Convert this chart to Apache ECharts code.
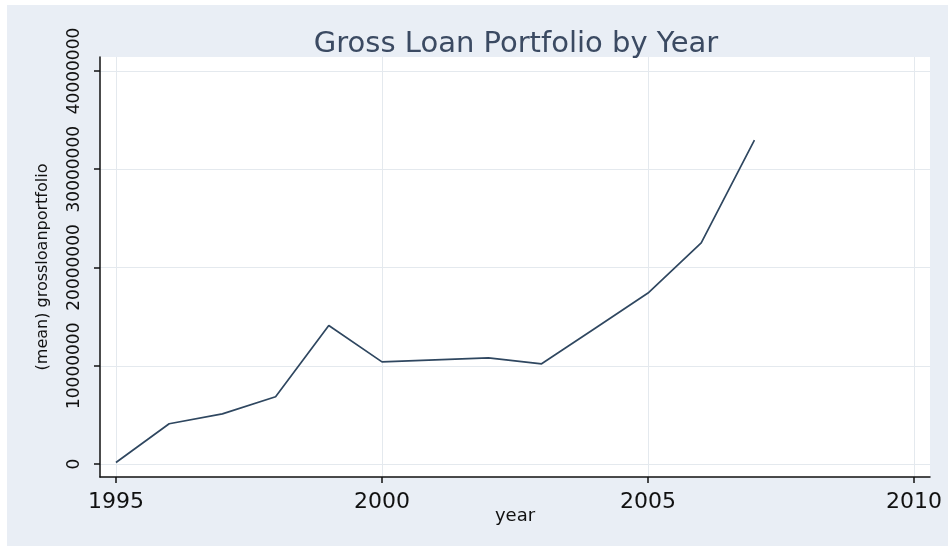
<!DOCTYPE html>
<html>
<head>
<meta charset="utf-8">
<title>Gross Loan Portfolio by Year</title>
<script src="https://cdn.jsdelivr.net/npm/echarts@6/dist/echarts.min.js"></script>
<style>
  html, body { margin: 0; padding: 0; background: #ffffff; }
  #chart { position: absolute; left: 7px; top: 5px; width: 941px; height: 541px; background: #e9eef5; }
</style>
</head>
<body>
<div id="chart"></div>
<script>
// Mean gross loan portfolio per year
const years = [1995, 1996, 1997, 1998, 1999, 2000, 2001, 2002, 2003, 2004, 2005, 2006, 2007];
const grossLoanPortfolio = [150000, 4100000, 5100000, 6850000, 14100000, 10400000, 10600000, 10800000, 10200000, 13800000, 17400000, 22500000, 32950000];

// Axis tick positions
const xTicks = [1995, 2000, 2005, 2010];
const yTicks = [0, 10000000, 20000000, 30000000, 40000000];

const chart = echarts.init(document.getElementById('chart'), null, { renderer: 'canvas' });

const axisColor = '#111111';
const gridColor = '#e4e9ee';

chart.setOption({
  backgroundColor: '#e9eef5',
  animation: false,
  title: {
    text: 'Gross Loan Portfolio by Year',
    left: 504,
    textAlign: 'center',
    top: 20,
    textStyle: { fontFamily: 'DejaVu Sans', fontSize: 29, fontWeight: 'normal', color: '#3b4a62' }
  },
  grid: {
    left: 93, top: 52, width: 830, height: 420,
    show: true, backgroundColor: '#ffffff', borderWidth: 0
  },
  xAxis: {
    type: 'value',
    min: 1994.70,
    max: 2010.30,
    name: 'year',
    nameLocation: 'middle',
    nameGap: 30,
    nameMoveOverlap: false,
    nameTextStyle: { fontFamily: 'DejaVu Sans', fontSize: 18, color: '#111' },
    axisLine: { show: true, onZero: false, lineStyle: { color: axisColor, width: 1.5 } },
    axisTick: { show: true, length: 6, customValues: xTicks, lineStyle: { color: axisColor, width: 1.5 } },
    axisLabel: { customValues: xTicks, margin: 14, fontFamily: 'DejaVu Sans', fontSize: 22, color: '#111', formatter: v => String(v) },
    splitLine: { show: true, lineStyle: { color: gridColor, width: 1 } }
  },
  yAxis: {
    type: 'value',
    min: -1320000,
    max: 41420000,
    name: '(mean) grossloanportfolio',
    nameLocation: 'middle',
    nameGap: 49,
    nameRotate: 90,
    nameMoveOverlap: false,
    nameTextStyle: { fontFamily: 'DejaVu Sans', fontSize: 16, color: '#111' },
    axisLine: { show: true, onZero: false, lineStyle: { color: axisColor, width: 1.5 } },
    axisTick: { show: true, length: 6, customValues: yTicks, lineStyle: { color: axisColor, width: 1.5 } },
    axisLabel: { customValues: yTicks, rotate: 90, margin: 17, fontFamily: 'DejaVu Sans', fontSize: 17, color: '#111', formatter: v => String(v) },
    splitLine: { show: true, lineStyle: { color: gridColor, width: 1 } }
  },
  series: [{
    type: 'line',
    data: years.map((y, i) => [y, grossLoanPortfolio[i]]),
    showSymbol: false,
    symbol: 'none',
    lineStyle: { color: '#2f4760', width: 1.7 }
  }]
});
</script>
</body>
</html>
